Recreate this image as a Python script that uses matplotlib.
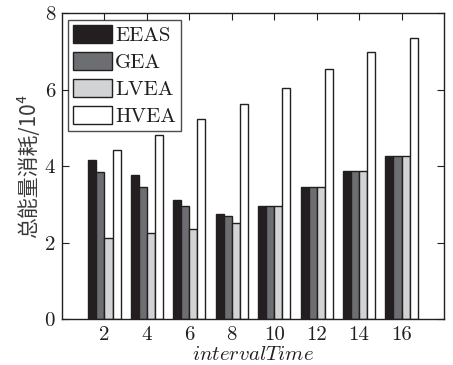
import numpy as np
import matplotlib
matplotlib.use("Agg")
import matplotlib.pyplot as plt

# Total energy consumption (x10^4) per interval time for each algorithm
interval_time = [2, 4, 6, 8, 10, 12, 14, 16]
eeas = [4.16, 3.77, 3.12, 2.76, 2.97, 3.46, 3.88, 4.27]
gea = [3.84, 3.46, 2.97, 2.71, 2.97, 3.46, 3.88, 4.27]
lvea = [2.13, 2.25, 2.35, 2.51, 2.97, 3.46, 3.88, 4.27]
hvea = [4.42, 4.82, 5.23, 5.62, 6.05, 6.56, 6.98, 7.36]

series_names = ["EEAS", "GEA", "LVEA", "HVEA"]
series_values = [eeas, gea, lvea, hvea]
colors = ["#231f20", "#6d6e71", "#d1d3d4", "#ffffff"]
y_ticks = [0, 2, 4, 6, 8]

plt.rcParams["mathtext.fontset"] = "cm"
plt.rcParams["axes.unicode_minus"] = False

fig = plt.figure(figsize=(4.53, 3.65), dpi=100)
ax = fig.add_axes([62 / 453, 1 - 319.2 / 365, (444 - 62) / 453, (319.2 - 13.5) / 365])

x = np.array(interval_time, dtype=float)
bar_w = 0.38
n = len(series_names)
for i, (name, vals, c) in enumerate(zip(series_names, series_values, colors)):
    offset = (i - (n - 1) / 2) * bar_w
    ax.bar(x + offset, vals, width=bar_w, color=c, edgecolor="#231f20",
           linewidth=1.0, label=name)

ax.set_xlim(0, 18)
ax.set_ylim(0, 8)
ax.set_xticks(interval_time)
ax.set_yticks(y_ticks)
ax.set_xticklabels([str(v) for v in interval_time], family="cmr10", fontsize=15)
ax.set_yticklabels([str(v) for v in y_ticks], family="cmr10", fontsize=15)
ax.tick_params(direction="in", length=5, width=0.8, top=True, right=True,
               color="#231f20", labelcolor="#231f20", pad=5)
for s in ax.spines.values():
    s.set_linewidth(1.0)
    s.set_color("#231f20")

ax.set_xlabel(r"$intervalTime$", fontsize=15, color="#231f20", labelpad=0)
ax.set_ylabel("总能量消耗/10⁴", family=["Noto Sans CJK SC", "DejaVu Sans"],
              fontsize=15, fontweight="light", color="#3a3a3a", labelpad=3)

leg = ax.legend(loc="upper left", prop={"family": "cmr10", "size": 15},
                frameon=True, fancybox=False, shadow=False,
                handlelength=1.85, handleheight=0.95, labelspacing=0.33,
                handletextpad=0.15, borderpad=0.25, borderaxespad=0.3)
leg.get_frame().set_edgecolor("#231f20")
leg.get_frame().set_linewidth(1.0)
for t in leg.get_texts():
    t.set_color("#231f20")

fig.savefig("out.png", dpi=100)
